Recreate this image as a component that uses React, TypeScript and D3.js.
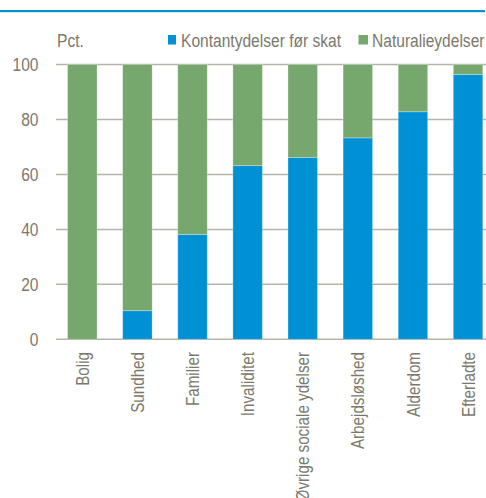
import React from "react";
import * as d3 from "d3";

const categories = ["Bolig", "Sundhed", "Familier", "Invaliditet", "Øvrige sociale ydelser", "Arbejdsløshed", "Alderdom", "Efterladte"];
const kontant = [0, 10.4, 38.1, 63.2, 66.2, 73.3, 82.8, 96.4];
const natural = kontant.map((v) => 100 - v);
const yTicks = [0, 20, 40, 60, 80, 100];
const seriesNames = ["Kontantydelser før skat", "Naturalieydelser"];
const colors = ["#0091d5", "#76a86e"];

const W = 486;
const H = 498;
const FONT = "'Liberation Sans', Arial, sans-serif";
const TXT = "#7b796c";
const GRID = "#b5b3a6";
const FS = 19;
const SX = 0.82;

export default function App() {
  const x = d3.scaleBand<string>().domain(categories).range([54.75, 495.6]).paddingInner(0.465).paddingOuter(0.2325);
  const y = d3.scaleLinear().domain([0, 100]).range([339.3, 64.5]);
  const bw = x.bandwidth();
  const T = (px: number, py: number) => `translate(${px},${py}) scale(${SX},1)`;
  return (
    <svg width={W} height={H} style={{ position: "absolute", left: 0, top: 0, background: "#fff" }} fontFamily={FONT}>
      <rect x={0} y={10} width={485} height={2.2} fill="#0091d5" />
      <text transform={T(57, 47)} fontSize={FS} fill={TXT}>Pct.</text>
      <rect x={168} y={35} width={8} height={9.5} fill={colors[0]} />
      <text transform={T(181, 47)} fontSize={FS} fill={TXT}>{seriesNames[0]}</text>
      <rect x={358.5} y={35} width={9.5} height={9.5} fill={colors[1]} />
      <text transform={T(372, 47)} fontSize={FS} fill={TXT}>{seriesNames[1]}</text>
      {yTicks.map((t) => (
        <g key={t}>
          <line x1={56} x2={W} y1={y(t)} y2={y(t)} stroke={GRID} strokeWidth={1.5} />
          <text transform={T(38.5, y(t))} dy="0.35em" textAnchor="end" fontSize={FS} fill={TXT}>{t}</text>
        </g>
      ))}
      {categories.map((c, i) => (
        <g key={c}>
          <rect x={x(c)} y={y(kontant[i])} width={bw} height={y(0) - y(kontant[i])} fill={colors[0]} stroke="#ffffff" strokeOpacity={0.35} strokeWidth={0.8} />
          <rect x={x(c)} y={y(100)} width={bw} height={y(0) - y(natural[i]) } transform={`translate(0,0)`} fill={colors[1]} stroke="#ffffff" strokeOpacity={0.35} strokeWidth={0.8} />
          <text transform={`translate(${(x(c) as number) + bw / 2},352) rotate(-90) scale(0.8,1)`} dy="0.35em" textAnchor="end" fontSize={FS} fill={TXT}>{c}</text>
        </g>
      ))}
    </svg>
  );
}
